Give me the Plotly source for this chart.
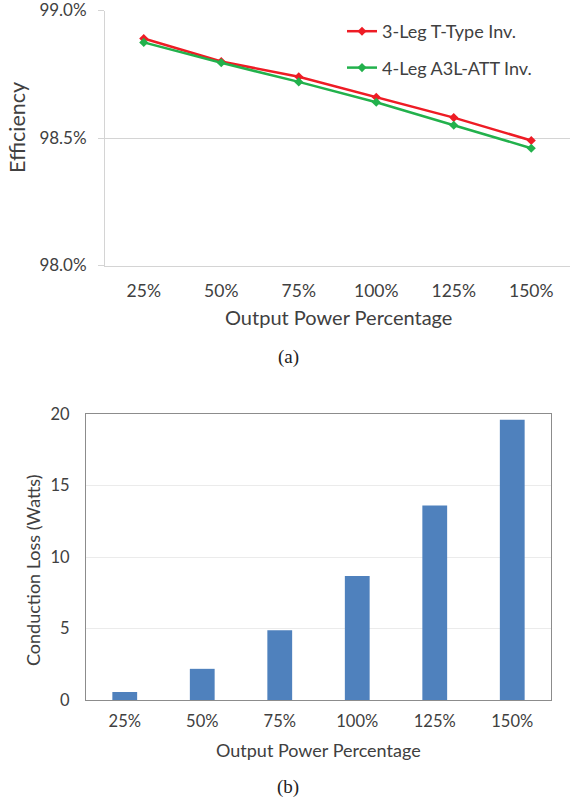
import plotly.graph_objects as go

# Load levels shared by both panels
categories = ["25%", "50%", "75%", "100%", "125%", "150%"]

# Panel (a): inverter efficiency, percent
eff_3leg_ttype = [98.89, 98.80, 98.74, 98.66, 98.58, 98.49]
eff_4leg_a3l_att = [98.875, 98.795, 98.72, 98.64, 98.55, 98.46]

# Panel (b): conduction loss, watts
conduction_loss = [0.56, 2.18, 4.87, 8.67, 13.6, 19.6]

eff_ticks = [98.0, 98.5, 99.0]
eff_ticklabels = ["98.0%", "98.5%", "99.0%"]
loss_ticks = [0, 5, 10, 15, 20]

W, H = 573, 799
FONT = "Lato"
TXT = "#404040"


def py(pix):
    return 1 - pix / H


def px(pix):
    return pix / W


def label(text, x, y, size, angle=0, family=FONT, color=TXT):
    return dict(text=text, x=px(x), y=py(y), xref="paper", yref="paper",
                xanchor="center", yanchor="middle", textangle=angle,
                showarrow=False, font=dict(family=family, size=size, color=color))


fig = go.Figure()

fig.add_trace(go.Scatter(
    x=categories, y=eff_3leg_ttype, name="3-Leg T-Type Inv.",
    mode="lines+markers", line=dict(color="#ee1c25", width=2.5),
    marker=dict(symbol="diamond", size=7, color="#ee1c25"),
    legendgroup="a", xaxis="x", yaxis="y",
))
fig.add_trace(go.Scatter(
    x=categories, y=eff_4leg_a3l_att, name="4-Leg A3L-ATT Inv.",
    mode="lines+markers", line=dict(color="#22b14c", width=2.5),
    marker=dict(symbol="diamond", size=7, color="#22b14c"),
    legendgroup="b", xaxis="x", yaxis="y",
))
fig.add_trace(go.Bar(
    x=categories, y=conduction_loss,
    marker=dict(color="#4f81bd", line=dict(width=0)),
    showlegend=False, xaxis="x2", yaxis="y2",
))

fig.update_layout(
    width=W, height=H,
    margin=dict(l=0, r=0, t=0, b=0),
    paper_bgcolor="white", plot_bgcolor="white",
    font=dict(family=FONT, size=16, color=TXT),
    bargap=0.68,
    xaxis=dict(
        domain=[px(105), px(570)], anchor="y", type="category",
        range=[-0.5, 5.5], showgrid=False, automargin=False,
        showline=True, linecolor="#d4d4d4", linewidth=1,
        ticks="", ticklabelstandoff=9, tickfont=dict(size=17.5),
        ticklabeloverflow="allow",
    ),
    yaxis=dict(
        domain=[py(265.5), py(10.5)], anchor="x", automargin=False,
        range=[98.0, 99.0], tickvals=eff_ticks, ticktext=eff_ticklabels,
        showgrid=True, gridcolor="#d4d4d4", gridwidth=1,
        showline=True, linecolor="#d4d4d4", linewidth=1,
        ticks="outside", ticklen=6, tickcolor="#d4d4d4",
        ticklabelstandoff=8, tickfont=dict(size=17), zeroline=False,
        ticklabeloverflow="allow",
    ),
    xaxis2=dict(
        domain=[px(86), px(551)], anchor="y2", type="category",
        range=[-0.5, 5.5], showgrid=False, automargin=False,
        showline=True, linecolor="#8c8c8c", linewidth=1, mirror=True,
        ticks="", ticklabelstandoff=6, tickfont=dict(size=16.5),
        ticklabeloverflow="allow",
    ),
    yaxis2=dict(
        domain=[py(700), py(414)], anchor="x2", automargin=False,
        range=[0, 20], tickvals=loss_ticks,
        showgrid=True, gridcolor="#ebebeb", gridwidth=1,
        showline=True, linecolor="#8c8c8c", linewidth=1, mirror=True,
        ticks="", ticklabelstandoff=12, tickfont=dict(size=16.5), zeroline=False,
        ticklabeloverflow="allow",
    ),
    legend=dict(
        x=px(342), y=py(13), xanchor="left", yanchor="top",
        bgcolor="rgba(0,0,0,0)", font=dict(size=18, color=TXT),
        itemwidth=30, traceorder="grouped", tracegroupgap=10,
    ),
    annotations=[
        label("Output Power Percentage", 338, 317, 20),
        label("Efficiency", 17, 128, 21.5, angle=-90),
        label("Output Power Percentage", 318, 750, 18),
        label("Conduction Loss (Watts)", 33, 570, 18, angle=-90),
        label("(a)", 288, 357, 19, family="Liberation Serif", color="#222222"),
        label("(b)", 288, 787, 19, family="Liberation Serif", color="#222222"),
    ],
)

fig.write_html("out.html")
